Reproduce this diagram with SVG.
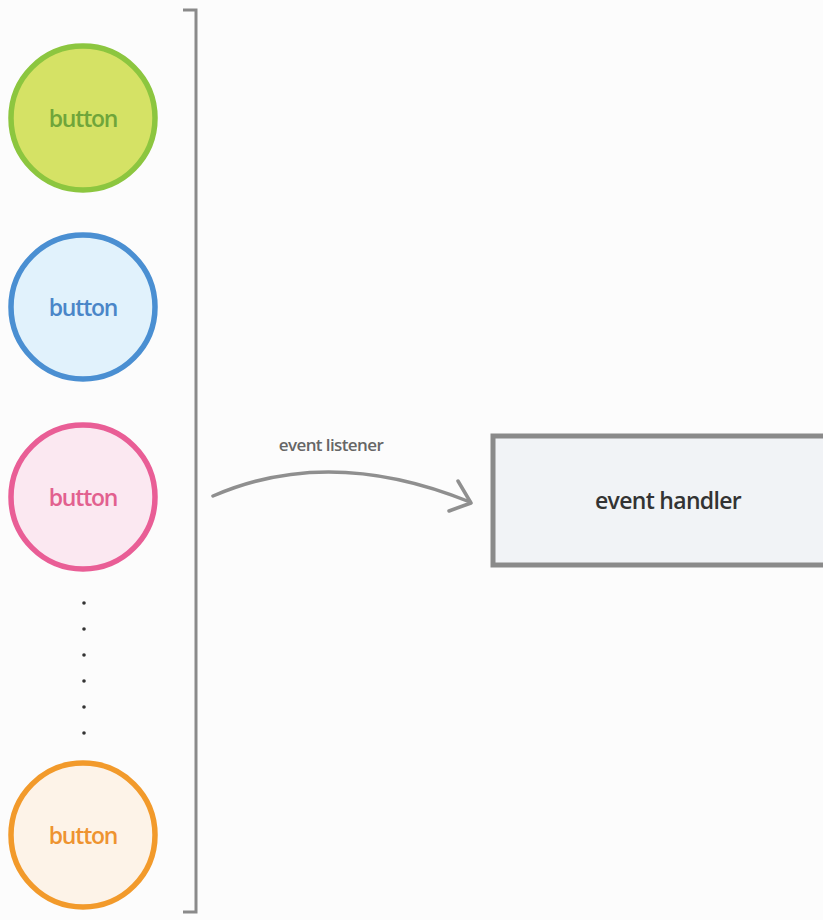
<svg xmlns="http://www.w3.org/2000/svg" width="823" height="920" viewBox="0 0 823 920">
<style>
.lbl{font-family:"Open Sans","Noto Sans","DejaVu Sans",sans-serif;font-size:23px;font-weight:600;text-anchor:middle;letter-spacing:-1.2px}
.conn{fill:none;stroke:#8f8f8f;stroke-width:3.5;stroke-linecap:round;stroke-linejoin:round}
</style>
<rect width="823" height="920" fill="#fcfcfc"/>
<g id="bracket">
<path d="M183 10 H196 V912 H183" fill="none" stroke="#8a8a8a" stroke-width="3"/>
</g>
<g id="button-green">
<circle cx="83" cy="118" r="72" fill="#d5e265" stroke="#8cc63f" stroke-width="5.5"/>
<text class="lbl" x="83" y="127" fill="#6fa53a">button</text>
</g>
<g id="button-blue">
<circle cx="83" cy="307" r="72" fill="#e1f2fc" stroke="#4a8fd2" stroke-width="5.5"/>
<text class="lbl" x="83" y="316" fill="#4a86c8">button</text>
</g>
<g id="button-pink">
<circle cx="83" cy="497" r="72" fill="#fbe8f1" stroke="#e95e96" stroke-width="5.5"/>
<text class="lbl" x="83" y="506" fill="#e2608f">button</text>
</g>
<g id="ellipsis" fill="#333">
<circle cx="84" cy="603" r="1.8"/>
<circle cx="84" cy="629" r="1.8"/>
<circle cx="84" cy="655" r="1.8"/>
<circle cx="84" cy="681" r="1.8"/>
<circle cx="84" cy="707" r="1.8"/>
<circle cx="84" cy="733" r="1.8"/>
</g>
<g id="button-orange">
<circle cx="83" cy="835" r="72" fill="#fdf3e8" stroke="#f29a2b" stroke-width="5.5"/>
<text class="lbl" x="83" y="844" fill="#ee9330">button</text>
</g>
<g id="event-handler">
<rect x="493" y="436" width="345" height="129" fill="#f1f3f6" stroke="#8a8a8a" stroke-width="5"/>
<text x="668" y="509" font-family="Open Sans,Noto Sans,sans-serif" font-size="23" font-weight="600" fill="#333" text-anchor="middle" letter-spacing="-0.7">event handler</text>
</g>
<g id="connectors">
<path class="conn" d="M213 496 Q330 445 470 502"/>
<path class="conn" d="M458 481 L471 503 L449 511"/>
<text x="331" y="451" font-family="Open Sans,Noto Sans,sans-serif" font-size="17" font-weight="600" fill="#666" text-anchor="middle" letter-spacing="-0.6">event listener</text>
</g>
</svg>
